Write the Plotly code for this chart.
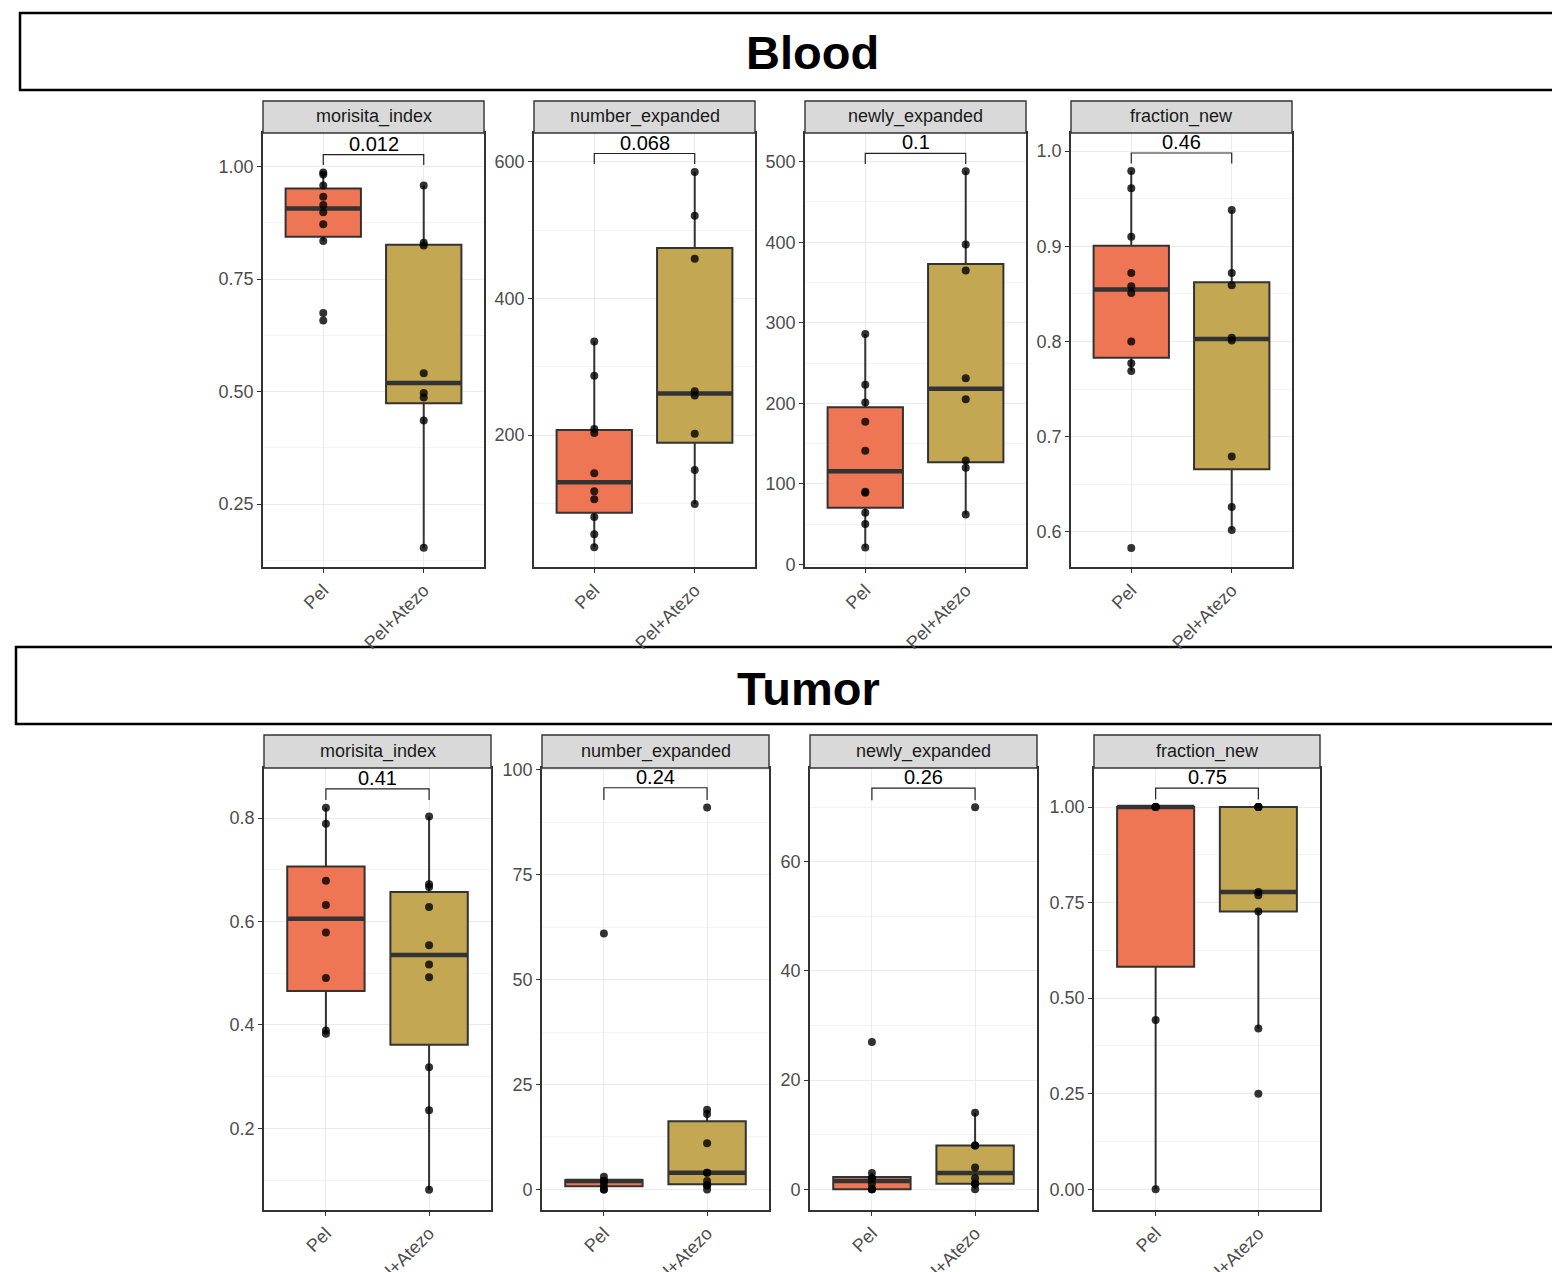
import numpy as np
import plotly.graph_objects as go

W, H = 1552, 1272
FONT = "Liberation Sans, Arial, Helvetica, sans-serif"

# ---------------- data ----------------
groups = ["Pel", "Pel+Atezo"]
metrics = ["morisita_index", "number_expanded", "newly_expanded", "fraction_new"]
sections = ["Blood", "Tumor"]

# Blood samples
blood_morisita_pel = [0.658, 0.675, 0.835, 0.872, 0.899, 0.915, 0.933, 0.958, 0.983, 0.987]
blood_morisita_combo = [0.153, 0.436, 0.487, 0.497, 0.541, 0.825, 0.831, 0.958]
blood_number_pel = [36, 55, 80, 106, 118, 144, 203, 209, 287, 337]
blood_number_combo = [99, 149, 202, 258, 264, 458, 521, 585]
blood_newly_pel = [21, 50, 64, 89, 90, 141, 177, 201, 223, 286]
blood_newly_combo = [62, 120, 129, 205, 231, 365, 397, 488]
blood_fraction_pel = [0.583, 0.769, 0.777, 0.800, 0.851, 0.858, 0.872, 0.910, 0.961, 0.979]
blood_fraction_combo = [0.602, 0.626, 0.679, 0.801, 0.804, 0.859, 0.872, 0.938]

# Tumor samples
tumor_morisita_pel = [0.383, 0.389, 0.491, 0.579, 0.632, 0.679, 0.789, 0.820]
tumor_morisita_combo = [0.081, 0.235, 0.318, 0.492, 0.517, 0.554, 0.628, 0.667, 0.672, 0.803]
tumor_number_pel = [0, 0, 1, 2, 2, 2, 3, 61]
tumor_number_combo = [0, 1, 1, 2, 4, 4, 11, 18, 19, 91]
tumor_newly_pel = [0, 0, 0, 1, 2, 2, 3, 27]
tumor_newly_combo = [0, 1, 1, 1, 2, 4, 8, 8, 14, 70]
tumor_fraction_pel = [0.0, 0.443, 1.0, 1.0, 1.0, 1.0]
tumor_fraction_combo = [0.25, 0.421, 0.727, 0.769, 0.778, 1.0, 1.0, 1.0, 1.0]

# Wilcoxon p-values shown over each panel
p_blood = ["0.012", "0.068", "0.1", "0.46"]
p_tumor = ["0.41", "0.24", "0.26", "0.75"]

# y tick labels
blood_ticks = [
    ["0.25", "0.50", "0.75", "1.00"],
    ["200", "400", "600"],
    ["0", "100", "200", "300", "400", "500"],
    ["0.6", "0.7", "0.8", "0.9", "1.0"],
]
tumor_ticks = [
    ["0.2", "0.4", "0.6", "0.8"],
    ["0", "25", "50", "75", "100"],
    ["0", "20", "40", "60"],
    ["0.00", "0.25", "0.50", "0.75", "1.00"],
]

blood_series = [
    (blood_morisita_pel, blood_morisita_combo),
    (blood_number_pel, blood_number_combo),
    (blood_newly_pel, blood_newly_combo),
    (blood_fraction_pel, blood_fraction_combo),
]
tumor_series = [
    (tumor_morisita_pel, tumor_morisita_combo),
    (tumor_number_pel, tumor_number_combo),
    (tumor_newly_pel, tumor_newly_combo),
    (tumor_fraction_pel, tumor_fraction_combo),
]

# ---------------- layout geometry (pixels) ----------------
rows = [
    dict(name="Blood", header=(20, 13, 90), title_xy=(812, 53),
         panels_x=[(263, 484), (534, 755), (805, 1026), (1071, 1292)],
         strip_top=101, plot_top=133, plot_bottom=567,
         yranges=[(0.110, 1.075), (7, 642), (-3.3, 535.6), (0.563, 1.019)],
         minor=[0.125, 100, 50, 0.05],
         brackets=[(1.027, 1.004), (612, 596.6), (510.4, 497.1), (0.998, 0.987)],
         series=blood_series, pvals=p_blood, ticks=blood_ticks),
    dict(name="Tumor", header=(16, 647, 724), title_xy=(808, 688),
         panels_x=[(264, 491), (542, 769), (810, 1037), (1094, 1320)],
         strip_top=735, plot_top=768, plot_bottom=1210,
         yranges=[(0.042, 0.897), (-4.9, 100.4), (-3.8, 77.2), (-0.054, 1.102)],
         minor=[0.1, 12.5, 10, 0.125],
         brackets=[(0.8565, 0.835), (95.7, 92.8), (73.5, 71.3), (1.0495, 1.0198)],
         series=tumor_series, pvals=p_tumor, ticks=tumor_ticks),
]

FILLS = ["#EE7655", "#C4A753"]
EDGE = "#333333"
BOX_W = 0.75


def px_x(px):
    return px / W


def px_y(py):
    return 1 - py / H


def tukey(vals):
    v = np.sort(np.asarray(vals, dtype=float))
    q1, med, q3 = np.percentile(v, [25, 50, 75])
    iqr = q3 - q1
    lo = v[v >= q1 - 1.5 * iqr].min()
    hi = v[v <= q3 + 1.5 * iqr].max()
    return q1, med, q3, lo, hi


fig = go.Figure()
shapes, annotations, axes = [], [], {}
idx = 0

for row in rows:
    # section header box
    hx, ht, hb = row["header"]
    shapes.append(dict(type="rect", xref="paper", yref="paper",
                       x0=px_x(hx), x1=1.05, y0=px_y(hb), y1=px_y(ht),
                       line=dict(color="black", width=2.5), fillcolor="white", layer="below"))
    tx, ty = row["title_xy"]
    annotations.append(dict(text="<b>%s</b>" % row["name"], x=px_x(tx), y=px_y(ty),
                            xref="paper", yref="paper", showarrow=False,
                            xanchor="center", yanchor="middle",
                            font=dict(family=FONT, size=47, color="black")))

    for j, (x0, x1) in enumerate(row["panels_x"]):
        idx += 1
        sfx = "" if idx == 1 else str(idx)
        xname, yname = "x" + sfx, "y" + sfx
        lo_r, hi_r = row["yranges"][j]
        labels = row["ticks"][j]
        tvals = [float(t) for t in labels]
        mstep = row["minor"][j]
        mvals = [m for m in np.arange(np.ceil(lo_r / mstep) * mstep, hi_r, mstep)
                 if all(abs(m - t) > 1e-9 for t in tvals)]

        axes["xaxis" + sfx] = dict(
            domain=[px_x(x0), px_x(x1)], anchor=yname, range=[0.4, 2.6],
            automargin=False,
            tickmode="array", tickvals=[1, 2], ticktext=groups, tickangle=-45,
            showgrid=True, gridcolor="#EBEBEB", gridwidth=1.2, zeroline=False,
            showline=True, linecolor=EDGE, linewidth=1.6, mirror=True,
            ticks="outside", ticklen=4, tickwidth=1.2, tickcolor=EDGE,
            tickfont=dict(family=FONT, size=18, color="#4D4D4D"), fixedrange=True)
        axes["yaxis" + sfx] = dict(
            domain=[px_y(row["plot_bottom"]), px_y(row["plot_top"])], anchor=xname,
            range=[lo_r, hi_r], automargin=False,
            tickmode="array", tickvals=tvals, ticktext=labels,
            showgrid=True, gridcolor="#EBEBEB", gridwidth=1.2, zeroline=False,
            minor=dict(tickmode="array", tickvals=mvals, showgrid=True,
                       gridcolor="#F4F4F4", gridwidth=0.8, ticks=""),
            showline=True, linecolor=EDGE, linewidth=1.6, mirror=True,
            ticks="outside", ticklen=4, tickwidth=1.2, tickcolor=EDGE,
            tickfont=dict(family=FONT, size=18, color="#4D4D4D"), fixedrange=True)

        # facet strip
        shapes.append(dict(type="rect", xref="paper", yref="paper",
                           x0=px_x(x0), x1=px_x(x1),
                           y0=px_y(row["plot_top"]), y1=px_y(row["strip_top"]),
                           fillcolor="#D9D9D9", line=dict(color=EDGE, width=1.4)))
        annotations.append(dict(text=metrics[j], xref="paper", yref="paper",
                                x=px_x((x0 + x1) / 2),
                                y=px_y((row["strip_top"] + row["plot_top"]) / 2),
                                showarrow=False, xanchor="center", yanchor="middle",
                                font=dict(family=FONT, size=18, color="#1A1A1A")))

        # boxes, medians and sample points
        for k, vals in enumerate(row["series"][j]):
            c = k + 1
            q1, med, q3, lo, hi = tukey(vals)
            fig.add_trace(go.Box(
                x=[c], q1=[q1], median=[med], q3=[q3], lowerfence=[lo], upperfence=[hi],
                width=BOX_W, fillcolor=FILLS[k], line=dict(color=EDGE, width=2),
                boxpoints=False, whiskerwidth=0, showlegend=False, hoverinfo="skip",
                xaxis=xname, yaxis=yname))
            fig.add_trace(go.Scatter(
                x=[c - BOX_W / 2, c + BOX_W / 2], y=[med, med], mode="lines",
                line=dict(color=EDGE, width=4.5), showlegend=False, hoverinfo="skip",
                xaxis=xname, yaxis=yname))
            fig.add_trace(go.Scatter(
                x=[c] * len(vals), y=vals, mode="markers",
                marker=dict(size=8, color="rgba(0,0,0,0.8)", line=dict(width=0)),
                showlegend=False, hoverinfo="skip", xaxis=xname, yaxis=yname))

        # comparison bracket and p-value
        yh, yd = row["brackets"][j]
        shapes.append(dict(type="path", xref=xname, yref=yname,
                           path="M 1,%s L 1,%s L 2,%s L 2,%s" % (yd, yh, yh, yd),
                           line=dict(color="#222222", width=1.2)))
        annotations.append(dict(text=row["pvals"][j], xref=xname, yref=yname,
                                x=1.5, y=yh, showarrow=False, xanchor="center",
                                yanchor="bottom", yshift=-2,
                                font=dict(family=FONT, size=20, color="black")))

fig.update_layout(
    width=W, height=H, margin=dict(l=0, r=0, t=0, b=0, autoexpand=False),
    paper_bgcolor="white", plot_bgcolor="white",
    showlegend=False, boxmode="overlay",
    shapes=shapes, annotations=annotations, **axes)

fig.write_html("out.html")
